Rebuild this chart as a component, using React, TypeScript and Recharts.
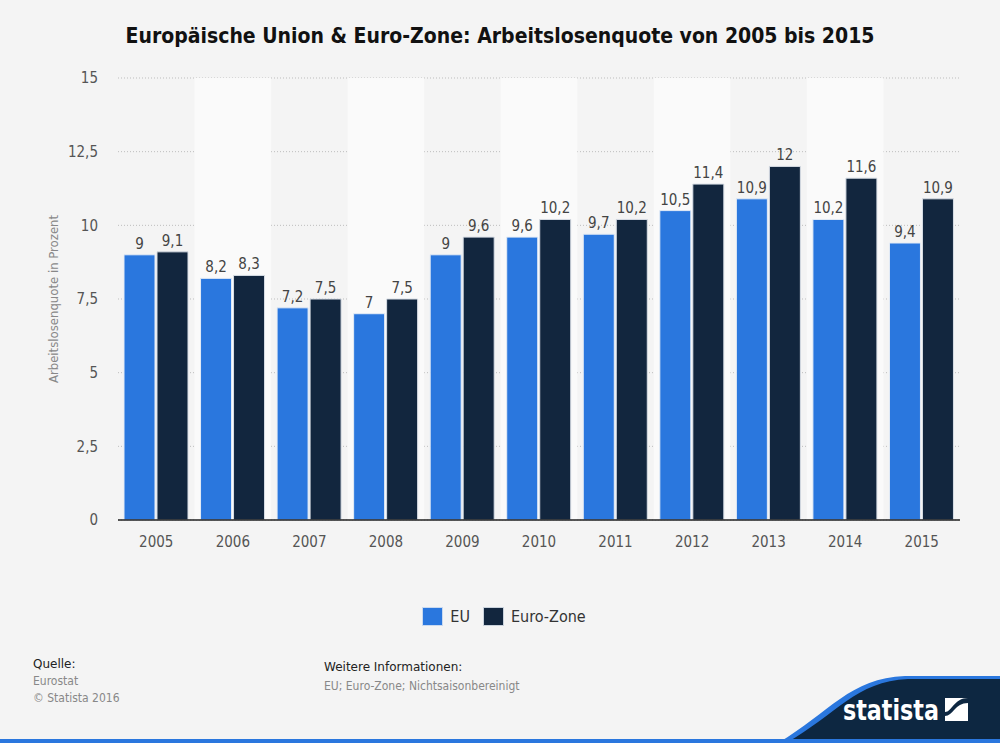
import React from "react"
import {
  BarChart,
  Bar,
  XAxis,
  YAxis,
  CartesianGrid,
  ReferenceArea,
  LabelList,
} from "recharts"

const years = ["2005", "2006", "2007", "2008", "2009", "2010", "2011", "2012", "2013", "2014", "2015"]
const euValues = [9, 8.2, 7.2, 7, 9, 9.6, 9.7, 10.5, 10.9, 10.2, 9.4]
const euroZoneValues = [9.1, 8.3, 7.5, 7.5, 9.6, 10.2, 10.2, 11.4, 12, 11.6, 10.9]
const yTicks = [0, 2.5, 5, 7.5, 10, 12.5, 15]
const shadedYears = ["2006", "2008", "2010", "2012", "2014"]

const EU_COLOR = "#2a77de"
const EZ_COLOR = "#12263e"
const FONT = "'DejaVu Sans Condensed', 'DejaVu Sans', sans-serif"

const data = years.map((y, i) => ({ year: y, eu: euValues[i], ez: euroZoneValues[i] }))

const fmt = (v: any) => String(v).replace(".", ",")

export default function App() {
  return (
    <div
      style={{
        position: "absolute",
        left: 0,
        top: 0,
        width: 1000,
        height: 743,
        background: "#f4f4f4",
        fontFamily: FONT,
        overflow: "hidden",
      }}
    >
      <div
        style={{
          position: "absolute",
          top: 24,
          left: 0,
          width: 1000,
          textAlign: "center",
          fontSize: 21,
          fontWeight: "bold",
          color: "#111",
        }}
      >
        Europäische Union &amp; Euro-Zone: Arbeitslosenquote von 2005 bis 2015
      </div>

      <div style={{ position: "absolute", left: 0, top: 0 }}>
        <BarChart
          width={1000}
          height={560}
          data={data}
          margin={{ top: 78, right: 40, left: 0, bottom: 0 }}
          barCategoryGap={6}
          barGap={2}
        >
          {shadedYears.map((y) => (
            <ReferenceArea key={y} x1={y} x2={y} fill="#fafafa" fillOpacity={1} stroke="none" />
          ))}
          <CartesianGrid vertical={false} stroke="#bdbdbd" strokeDasharray="1 2" />
          <XAxis
            dataKey="year"
            height={40}
            tickLine={false}
            axisLine={{ stroke: "#222", strokeWidth: 1.5 }}
            tick={{ fontSize: 15, fill: "#555", fontFamily: FONT }}
            tickMargin={10}
          />
          <YAxis
            width={118}
            domain={[0, 15]}
            ticks={yTicks}
            tickFormatter={fmt}
            axisLine={false}
            tickLine={false}
            tick={{ fontSize: 15, fill: "#555", fontFamily: FONT }}
            tickMargin={14}
            label={{
              value: "Arbeitslosenquote in Prozent",
              angle: -90,
              position: "insideLeft",
              offset: 53,
              style: { fontSize: 13, fill: "#888", fontFamily: FONT, textAnchor: "middle" },
            }}
          />
          <Bar dataKey="eu" fill={EU_COLOR} stroke="#e4ecf6" strokeWidth={1} isAnimationActive={false}>
            <LabelList dataKey="eu" position="top" offset={6} formatter={fmt} style={{ fontSize: 15, fill: "#444", fontFamily: FONT }} />
          </Bar>
          <Bar dataKey="ez" fill={EZ_COLOR} stroke="#d8dee6" strokeWidth={1} isAnimationActive={false}>
            <LabelList dataKey="ez" position="top" offset={6} formatter={fmt} style={{ fontSize: 15, fill: "#444", fontFamily: FONT }} />
          </Bar>
        </BarChart>
      </div>

      <div
        style={{
          position: "absolute",
          top: 607,
          left: 4,
          width: 1000,
          display: "flex",
          justifyContent: "center",
          alignItems: "center",
          fontSize: 15,
          color: "#333",
          fontFamily: FONT,
        }}
      >
        <span style={{ width: 19, height: 17, background: EU_COLOR, border: "1px solid #c9d9ef", marginRight: 7 }} />
        <span style={{ marginRight: 13, fontSize: 16 }}>EU</span>
        <span style={{ width: 19, height: 17, background: EZ_COLOR, border: "1px solid #c9d2dc", marginRight: 7 }} />
        <span style={{ fontSize: 16 }}>Euro-Zone</span>
      </div>

      <div style={{ position: "absolute", left: 33, top: 656, fontSize: 12, lineHeight: "17px", fontFamily: "'DejaVu Sans', sans-serif" }}>
        <div style={{ color: "#222" }}>Quelle:</div>
        <div style={{ color: "#888", fontFamily: FONT }}>Eurostat</div>
        <div style={{ color: "#888", fontFamily: FONT }}>© Statista 2016</div>
      </div>
      <div style={{ position: "absolute", left: 324, top: 658, fontSize: 12, lineHeight: "19px", fontFamily: "'DejaVu Sans', sans-serif" }}>
        <div style={{ color: "#222" }}>Weitere Informationen:</div>
        <div style={{ color: "#888", fontFamily: FONT }}>EU; Euro-Zone; Nichtsaisonbereinigt</div>
      </div>

      <svg width={1000} height={743} style={{ position: "absolute", left: 0, top: 0 }}>
        <path d="M778,743 C830,712 850,678 905,676 L1000,676 L1000,743 Z" fill="#2a77de" />
        <path d="M786,743 C836,715 856,681 908,679 L1000,679 L1000,743 Z" fill="#0d2741" />
        <rect x={0} y={739} width={1000} height={4} fill="#2a77de" />
        <text x={843} y={720} fill="#fff" fontSize={29} fontWeight="bold" fontFamily="'DejaVu Sans Condensed', sans-serif" textLength={96} lengthAdjust="spacingAndGlyphs">
          statista
        </text>
        <rect x={945} y={698} width={23} height={23} fill="#fff" />
        <path d="M945,716 C953,716 955,703 968,703 L968,698 C954,698 952,712 945,712 Z" fill="#0d2741" />
      </svg>
    </div>
  )
}
